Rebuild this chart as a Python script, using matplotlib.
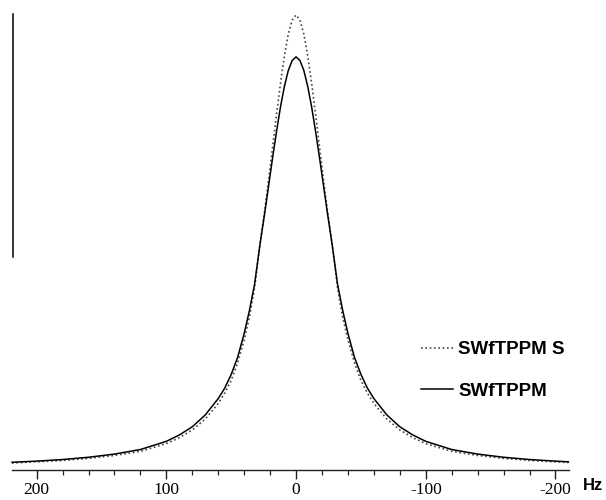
#!/usr/bin/env python3
import numpy as np
import matplotlib
matplotlib.use("Agg")
import matplotlib.pyplot as plt
from matplotlib.ticker import MultipleLocator

#======================================================================#
## data (frequency in Hz, intensity in a.u., dotted peak = 100)
freq = [219, 200, 180, 160, 140, 120, 100, 90, 80, 70, 60, 55, 50, 45, 40, 36, 32, 28, 24,
        21, 18, 15, 12, 9, 6, 3, 0, -3, -6, -9, -12, -15, -18, -21, -24, -28, -32, -36,
        -40, -45, -50, -55, -60, -70, -80, -90, -100, -120, -140, -160, -180, -200, -210]

swftppm = [1.7, 1.95, 2.3, 2.8, 3.5, 4.5, 6.3, 7.7, 9.5, 12.1, 15.7, 18.0, 21.0, 24.8, 30.0,
           35.0, 40.8, 49.2, 56.8, 62.8, 68.8, 74.5, 79.8, 84.3, 87.8, 90.0, 90.8,
           90.0, 87.8, 84.3, 79.8, 74.5, 68.8, 62.8, 56.8, 49.2, 40.8, 35.0, 30.0, 24.8,
           21.0, 18.0, 15.7, 12.1, 9.5, 7.7, 6.3, 4.5, 3.5, 2.8, 2.3, 1.95, 1.8]

swftppm_s = [1.55, 1.8, 2.1, 2.55, 3.2, 4.1, 5.8, 7.1, 8.8, 11.2, 14.6, 16.9, 19.7, 23.6,
             28.6, 33.5, 40.0, 49.2, 57.4, 64.2, 71.2, 78.3, 85.0, 91.0, 95.8, 98.9, 100.0,
             98.9, 95.8, 91.0, 85.0, 78.3, 71.2, 64.2, 57.4, 49.2, 40.0, 33.5, 28.6, 23.6,
             19.7, 16.9, 14.6, 11.2, 8.8, 7.1, 5.8, 4.1, 3.2, 2.55, 2.1, 1.8, 1.65]

major_ticks = [200, 100, 0, -100, -200]
tick_labels = ["200", "100", "0", "-100", "-200"]

#======================================================================#
def spectrum():
    fig = plt.figure(figsize=(6.06, 5.00), dpi=100)
    ax = fig.add_axes([0.0198, 0.06, 0.9191, 0.91])

    ax.plot(freq, swftppm_s, color="#444444", linewidth=1.2, linestyle=(0, (1, 1.6)),
            label="SWfTPPM S", clip_on=False)
    ax.plot(freq, swftppm, color="black", linewidth=1.1, label="SWfTPPM", clip_on=False)

    ax.set_xlim(219, -210.4)
    ax.set_ylim(0, 100)

    # intensity scale bar on the left
    ax.axvline(218.2, ymin=0.468, ymax=1.002, color="black", linewidth=1.1, clip_on=False)

    for s in ["left", "right", "top"]:
        ax.spines[s].set_visible(False)
    ax.spines["bottom"].set_linewidth(1.0)
    ax.spines["bottom"].set_color("#222222")

    ax.set_yticks([])
    ax.set_xticks(major_ticks)
    ax.set_xticklabels(tick_labels, family="Liberation Serif", fontsize=12.5)
    ax.xaxis.set_minor_locator(MultipleLocator(20))
    ax.tick_params(axis="x", which="major", length=6.5, width=1.0, pad=2.5, color="#222222")
    ax.tick_params(axis="x", which="minor", length=3.6, width=0.9, color="#222222")

    fig.text(0.9785, 0.03, "Hz", family="Liberation Sans", fontweight="bold", fontsize=12,
             ha="center", va="center")

    ax.legend(loc="center left", bbox_to_anchor=(0.6947, 0.259), bbox_transform=fig.transFigure,
              frameon=False, borderpad=0, borderaxespad=0, handlelength=1.7,
              handletextpad=0.3, labelspacing=1.3,
              prop={"family": "Liberation Sans", "weight": "bold", "size": 13.5})

    fig.savefig("out.png", dpi=100)

#======================================================================#
def main():
    spectrum()

if __name__ == '__main__':
    main()
